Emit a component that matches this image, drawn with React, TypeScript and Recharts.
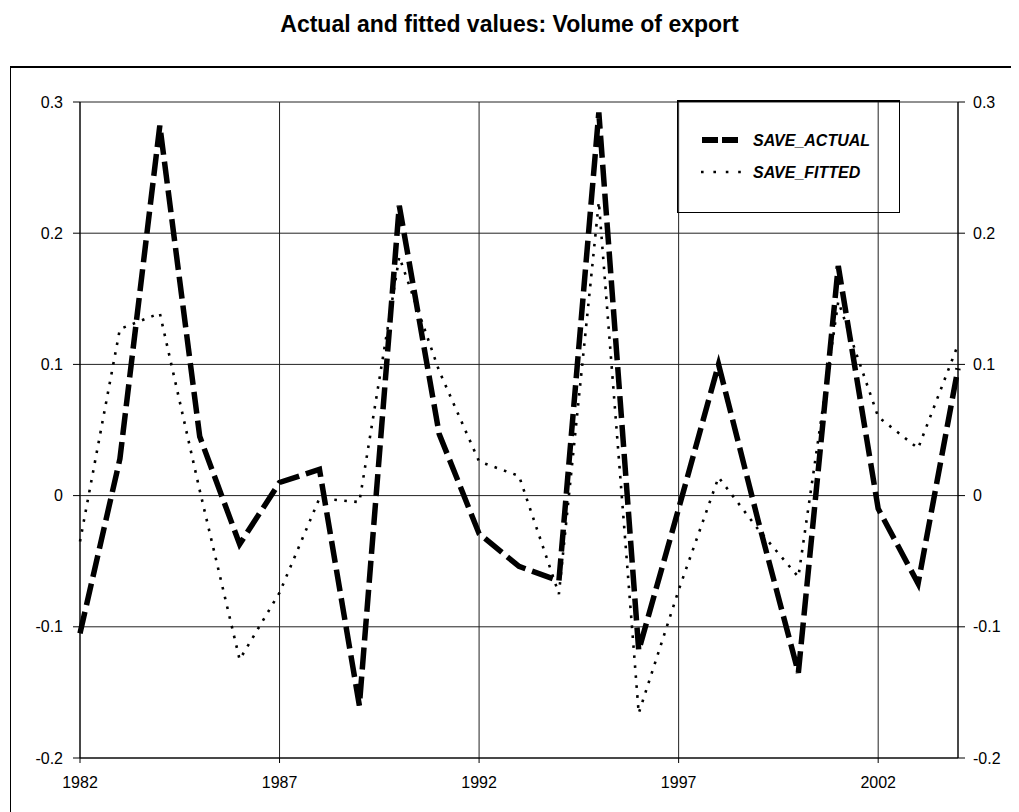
import { CartesianGrid, Legend, Line, LineChart, XAxis, YAxis } from "recharts"

const years = [1982, 1983, 1984, 1985, 1986, 1987, 1988, 1989, 1990, 1991, 1992, 1993, 1994, 1995, 1996, 1997, 1998, 1999, 2000, 2001, 2002, 2003, 2004]
const actual = [-0.105, 0.028, 0.282, 0.045, -0.037, 0.01, 0.02, -0.16, 0.221, 0.047, -0.029, -0.054, -0.065, 0.292, -0.118, -0.01, 0.1, -0.02, -0.135, 0.175, -0.01, -0.067, 0.097]
const fitted = [-0.035, 0.127, 0.139, 0.004, -0.125, -0.074, -0.002, -0.005, 0.182, 0.095, 0.026, 0.015, -0.075, 0.224, -0.166, -0.072, 0.014, -0.026, -0.062, 0.148, 0.06, 0.036, 0.115]
const xTicks = [1982, 1987, 1992, 1997, 2002]
const yTicks = [-0.2, -0.1, 0, 0.1, 0.2, 0.3]

const data = years.map((year, i) => ({ year, SAVE_ACTUAL: actual[i], SAVE_FITTED: fitted[i] }))

const font = "'Liberation Sans', Arial, sans-serif"
const tickStyle = { fontSize: 16, fill: "#000", fontFamily: font }
const fmt = (v: number) => (v === 0 ? "0" : String(Number(v.toFixed(1))))

function LegendBox() {
  return (
    <div style={{ width: 221, height: 110, border: "1px solid #000", borderTopWidth: 2 }}>
      <svg width={221} height={110} style={{ display: "block" }}>
        <line x1={24} x2={60} y1={38} y2={38} stroke="#000" strokeWidth={6} strokeDasharray="16 4" />
        <text x={75} y={44} fontSize={16} fontWeight="bold" fontStyle="italic" fontFamily={font}>
          SAVE_ACTUAL
        </text>
        <line x1={23} x2={64} y1={70} y2={70} stroke="#000" strokeWidth={2.6} strokeDasharray="2.6 9.8" />
        <text x={75} y={76} fontSize={16} fontWeight="bold" fontStyle="italic" fontFamily={font}>
          SAVE_FITTED
        </text>
      </svg>
    </div>
  )
}

export default function App() {
  return (
    <div style={{ position: "relative", width: 1011, height: 804, overflow: "hidden", fontFamily: font }}>
      <div
        style={{
          position: "absolute",
          top: 58,
          left: 2,
          width: 1040,
          height: 800,
          border: "1px solid #000",
          borderTopWidth: 2,
        }}
      />
      <div
        style={{
          position: "absolute",
          top: 5,
          left: 0,
          width: 1003,
          textAlign: "center",
          fontSize: 23,
          lineHeight: "22px",
          fontWeight: "bold",
          color: "#000",
        }}
      >
        Actual and fitted values: Volume of export
      </div>
      <LineChart width={1003} height={796} data={data} margin={{ top: 94, right: 3, bottom: 6, left: 12 }}>
        <CartesianGrid yAxisId="left" stroke="#222" strokeWidth={1} />
        <XAxis
          dataKey="year"
          type="number"
          domain={[1982, 2004]}
          ticks={xTicks}
          tick={tickStyle}
          tickSize={5}
          tickMargin={14}
          height={40}
          stroke="#000"
        />
        <YAxis
          yAxisId="left"
          domain={[-0.2, 0.3]}
          ticks={yTicks}
          tickFormatter={fmt}
          tick={tickStyle}
          tickSize={7}
          tickMargin={10}
          width={60}
          stroke="#000"
        />
        <YAxis
          yAxisId="right"
          orientation="right"
          domain={[-0.2, 0.3]}
          ticks={yTicks}
          tickFormatter={fmt}
          tick={tickStyle}
          tickSize={7}
          tickMargin={8}
          width={50}
          stroke="#000"
        />
        <Legend
          layout="vertical"
          align="center"
          verticalAlign="middle"
          content={() => <LegendBox />}
          wrapperStyle={{ left: 669, top: 92, width: "auto" }}
        />
        <Line
          yAxisId="right"
          dataKey="SAVE_FITTED"
          stroke="#000"
          strokeWidth={2.6}
          strokeDasharray="2.6 7.4"
          dot={false}
          isAnimationActive={false}
        />
        <Line
          yAxisId="left"
          dataKey="SAVE_ACTUAL"
          stroke="#000"
          strokeWidth={5.5}
          strokeDasharray="22 7"
          strokeLinejoin="miter"
          dot={false}
          isAnimationActive={false}
        />
      </LineChart>
    </div>
  )
}
